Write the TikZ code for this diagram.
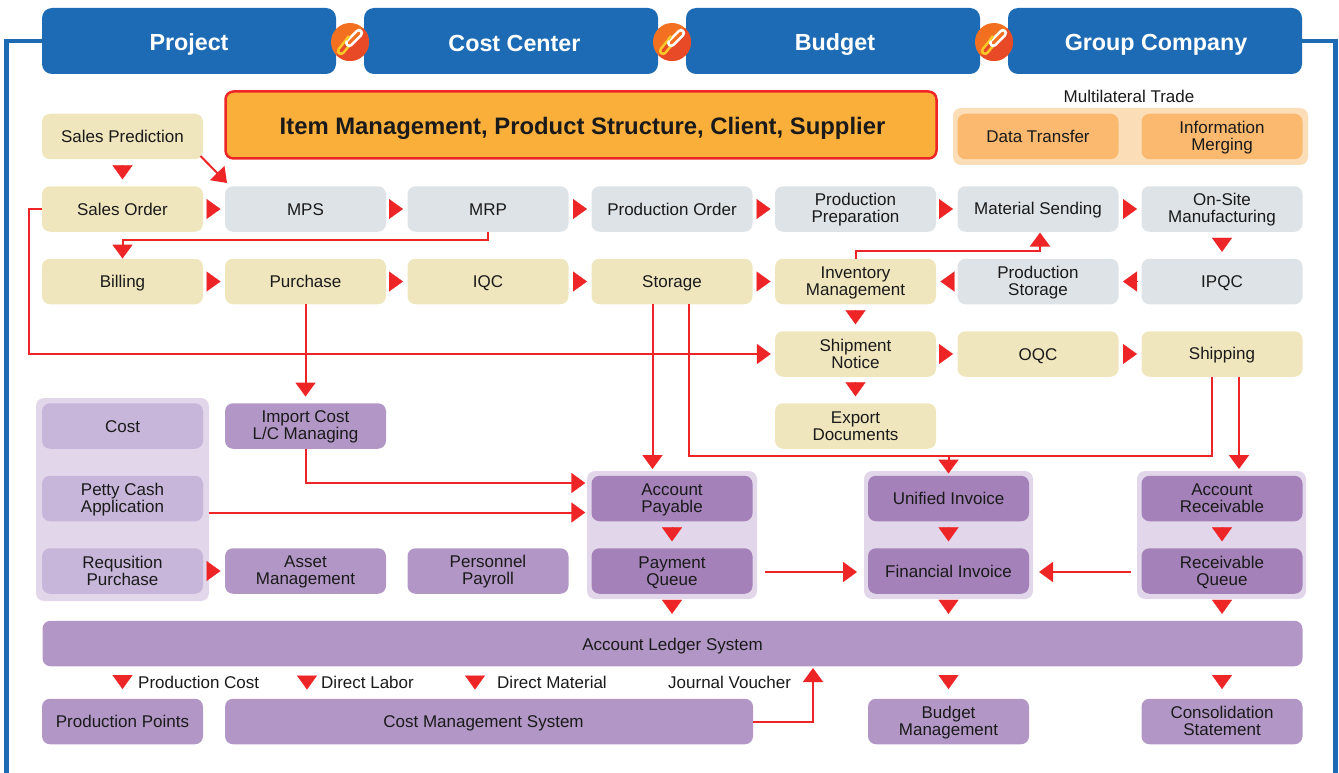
\documentclass[tikz,border=0pt]{standalone}
\usepackage{fontspec}
\setmainfont{Liberation Sans}
\usetikzlibrary{arrows.meta,calc}
\definecolor{hblue}{HTML}{1E6BB5}
\definecolor{cream}{HTML}{F0E6BE}
\definecolor{cgray}{HTML}{DDE3E7}
\definecolor{purp}{HTML}{B297C6}
\definecolor{dpurp}{HTML}{A481B9}
\definecolor{lpurp}{HTML}{C8B6DA}
\definecolor{panelp}{HTML}{E2D6EA}
\definecolor{orbox}{HTML}{FBAF3B}
\definecolor{orpanel}{HTML}{FBDDB8}
\definecolor{orcell}{HTML}{FAB96F}
\definecolor{cred}{HTML}{EE2527}
\definecolor{ink}{HTML}{1A1A1A}
\definecolor{icona}{HTML}{F37021}
\definecolor{iconb}{HTML}{E84A27}
\definecolor{iconc}{HTML}{FAC828}
\tikzset{
  x=1pt,y=-1pt,
  fixedline/.style 2 args={execute at begin node={\vrule width 0pt height #1 depth 0pt\relax},
     execute at end node={\vrule width 0pt depth #2 height 0pt\relax}},
  box/.style={inner sep=0pt,minimum width=161pt,minimum height=45.5pt,rounded corners=8pt,align=center,text=ink,
     font=\fontsize{17}{17}\selectfont,fixedline={15.4pt}{3.4pt}},
  two/.style={execute at begin node={\vrule width 0pt height 31.4pt depth 0pt\relax}},
  bcream/.style={box,fill=cream},
  bgray/.style={box,fill=cgray},
  bpurp/.style={box,fill=purp},
  bdark/.style={box,fill=dpurp},
  blight/.style={box,fill=lpurp},
  bor/.style={box,fill=orcell},
  panel/.style={rounded corners=8pt,fill=#1},
  header/.style={inner sep=0pt,minimum width=294pt,minimum height=66pt,rounded corners=10pt,fill=hblue,text=white,
     font=\fontsize{23.3}{24}\selectfont\bfseries,fixedline={23pt}{2pt}},
  lab/.style={inner sep=0pt,text=ink,font=\fontsize{17}{17}\selectfont},
  wire/.style={draw=cred,line width=2pt,-{Triangle[length=14pt,width=20pt]}},
  plain/.style={draw=cred,line width=2pt},
  hop/.style={draw=cred,fill=cred,line width=0.2pt,-{Triangle[length=14pt,width=20pt]},shorten >=#1,shorten <=#1},
  hop/.default=4.3pt,
  blueline/.style={draw=hblue,line width=4.5pt},
  linkicon/.pic={
    \fill[icona] (0,0) circle (19);
    \begin{scope}
      \clip (0,0) circle (19);
      \fill[iconb] (-14,14) -- (-5,5) -- (5,-3) -- (13,-14) -- (30,-5) -- (30,30) -- (-5,30) -- cycle;
    \end{scope}
    \draw[line width=8.5pt,line cap=round,draw=iconc] (-9,9) -- (0,-2);
    \draw[line width=3.2pt,line cap=round,draw=iconb] (-9,9) -- (0,-2);
    \draw[line width=8.5pt,line cap=round,draw=white] (-0.8,1) -- (9,-9);
    \draw[line width=3.2pt,line cap=round,draw=icona] (-0.8,1) -- (9,-9);
    \draw[line width=2.6pt,draw=iconc] (-4,-2) -- (-1,-6);
  }
}
\begin{document}
\begin{tikzpicture}
\useasboundingbox (0,0) rectangle (1339,773);
% blue frame
\node[header] (h1) at (189,41) {Project};
\node[header] (h2) at (511,41) {\hspace*{7pt}Cost Center};
\node[header] (h3) at (833,41) {\hspace*{4pt}Budget};
\node[header] (h4) at (1155,41) {\hspace*{2pt}Group Company};
\coordinate (fl) at (6.5,773);
\coordinate (fr) at (1335.3,773);
\draw[blueline] (h1.west) -| (fl);
\draw[blueline] (h4.east) -| (fr);
\pic at (350,42) {linkicon};
\pic at (672,42) {linkicon};
\pic at (994,42) {linkicon};
% panels
\fill[panel=orpanel] (953,108) rectangle (1308,165);
\fill[panel=panelp] (36,398) rectangle (209,601);
\fill[panel=panelp] (587,471) rectangle (757,599);
\fill[panel=panelp] (864,471) rectangle (1033,599);
\fill[panel=panelp] (1137,471) rectangle (1306,599);
% top
\node[box,fill=orbox,draw=cred,line width=2.5pt,minimum width=711pt,minimum height=67pt,font=\fontsize{23.85}{24}\selectfont\bfseries,fixedline={24.4pt}{3.4pt}] (item) at (581,125) {\hspace*{3pt}Item Management, Product Structure, Client, Supplier};
\node[lab] (mt) at (1129,96.5) {Multilateral Trade};
\node[bor] (dt) at (1038,136.5) {Data Transfer};
\node[bor,two] (im) at (1222,136.5) {Information\\Merging};
% row 1
\node[bcream] (sp) at (122.5,136.5) {Sales Prediction};
% row 2
\node[bcream] (so) at (122.5,209) {Sales Order};
\node[bgray] (mps) at (305.5,209) {MPS};
\node[bgray] (mrp) at (488,209) {MRP};
\node[bgray] (po) at (672,209) {Production Order};
\node[bgray,two] (pp) at (855.5,209) {Production\\Preparation};
\node[bgray] (ms) at (1038,209) {Material Sending};
\node[bgray,two] (os) at (1222,209) {On-Site\\Manufacturing};
% row 3
\node[bcream] (bi) at (122.5,281.5) {Billing};
\node[bcream] (pu) at (305.5,281.5) {Purchase};
\node[bcream] (iq) at (488,281.5) {IQC};
\node[bcream] (st) at (672,281.5) {Storage};
\node[bcream,two] (inv) at (855.5,281.5) {Inventory\\Management};
\node[bgray,two] (ps) at (1038,281.5) {Production\\Storage};
\node[bgray] (ip) at (1222,281.5) {IPQC};
% row 4
\node[bcream,two] (sn) at (855.5,354) {Shipment\\Notice};
\node[bcream] (oq) at (1038,354) {OQC};
\node[bcream] (sh) at (1222,354) {Shipping};
% row 5
\node[blight] (co) at (122.5,426) {Cost};
\node[bpurp,two] (ic) at (305.5,426) {Import Cost\\L/C Managing};
\node[bcream,two] (ex) at (855.5,426) {Export\\Documents};
% row 6
\node[blight,two] (pc) at (122.5,498.5) {Petty Cash\\Application};
\node[bdark,two] (ap) at (672,498.5) {Account\\Payable};
\node[bdark] (ui) at (948.5,498.5) {Unified Invoice};
\node[bdark,two] (ar) at (1222,498.5) {Account\\Receivable};
% row 7
\node[blight,two] (rp) at (122.5,571) {Requsition\\Purchase};
\node[bpurp,two] (am) at (305.5,571) {Asset\\Management};
\node[bpurp,two] (pr) at (488,571) {Personnel\\Payroll};
\node[bdark,two] (pq) at (672,571) {Payment\\Queue};
\node[bdark] (fi) at (948.5,571) {Financial Invoice};
\node[bdark,two] (rq) at (1222,571) {Receivable\\Queue};
% ledger
\node[bpurp,minimum width=1260pt,fixedline={17.4pt}{3.4pt}] (le) at (672.5,643.5) {Account Ledger System};
\node[bpurp] (pts) at (122.5,721.5) {Production Points};
\node[bpurp,minimum width=528pt] (cm) at (489,721.5) {\hspace*{-11pt}Cost Management System};
\node[bpurp,two] (bm) at (948.5,721.5) {Budget\\Management};
\node[bpurp,two] (cs) at (1222,721.5) {Consolidation\\Statement};
\node[lab,anchor=west] (t1) at (138,682) {Production Cost};
\node[lab,anchor=west] (t2) at (321,682) {Direct Labor};
\node[lab,anchor=west] (t3) at (497,682) {Direct Material};
\node[lab,anchor=west] (t4) at (668,682) {Journal Voucher};
% horizontal hops
\draw[hop] (so.east) -- (mps.west);
\draw[hop] (mps.east) -- (mrp.west);
\draw[hop] (mrp.east) -- (po.west);
\draw[hop] (po.east) -- (pp.west);
\draw[hop] (pp.east) -- (ms.west);
\draw[hop] (ms.east) -- (os.west);
\draw[hop] (bi.east) -- (pu.west);
\draw[hop] (pu.east) -- (iq.west);
\draw[hop] (iq.east) -- (st.west);
\draw[hop] (st.east) -- (inv.west);
\draw[hop] (ps.west) -- (inv.east);
\draw[hop] (ip.west) -- (ps.east);
\draw[hop] (sn.east) -- (oq.west);
\draw[hop] (oq.east) -- (sh.west);
\draw[hop] (rp.east) -- (am.west);
% vertical hops
\draw[hop=6.7pt] (sp.south) -- (so.north);
\draw[hop=6.7pt] (os.south) -- (ip.north);
\draw[hop=6.7pt] (inv.south) -- (sn.north);
\draw[hop=6.7pt] (sn.south) -- (ex.north);
\draw[hop=6.7pt] (ap.south) -- (pq.north);
\draw[hop=6.7pt] (ui.south) -- (fi.north);
\draw[hop=6.7pt] (ar.south) -- (rq.north);
\draw[hop=6.7pt] (pq.south) -- (le.north -| pq.south);
\draw[hop=6.7pt] (fi.south) -- (le.north -| fi.south);
\draw[hop=6.7pt] (rq.south) -- (le.north -| rq.south);
\draw[hop=9.5pt] (le.south -| bm.north) -- (bm.north);
\draw[hop=9.5pt] (le.south -| cs.north) -- (cs.north);
\draw[hop=9.5pt] (le.south -| pts.north) -- (pts.north);
\coordinate (dl) at (307,699);
\coordinate (dm) at (475,699);
\draw[hop=9.5pt] (le.south -| dl) -- (dl);
\draw[hop=9.5pt] (le.south -| dm) -- (dm);
% wires
\coordinate (spx) at (200.5,156);
\coordinate (mpx) at (227,183);
\draw[wire] (spx) -- (mpx);
\coordinate (y240) at (0,240);
\draw[wire] (mrp.south) |- (bi.north |- y240) -- (bi.north);
\coordinate (x29) at (29,0);
\draw[wire] (so.west) -- (x29 |- so.west) -- (x29 |- sn.west) -- ([xshift=-4pt]sn.west);
\coordinate (y250) at (0,250.5);
\coordinate (msb) at (1040,232.5);
\draw[wire] (inv.north) -- (inv.north |- y250) -- (msb |- y250) -- (msb);
\draw[wire] (pu.south) -- ([yshift=6.5pt]ic.north);
\coordinate (y483) at (0,483);
\draw[wire] (ic.south) -- (ic.south |- y483) -- ([xshift=-6pt]ap.west |- y483);
\coordinate (pcx) at (209,512.5);
\draw[wire] (pcx) -- ([xshift=-6pt]ap.west |- pcx);
\coordinate (y456) at (0,456);
\coordinate (y469) at (0,469);
\coordinate (s1) at (652.5,304);
\coordinate (s2) at (689,304);
\draw[wire] (s1) -- (s1 |- y469);
\coordinate (s3) at (1212,376.5);
\coordinate (s4) at (1239,376.5);
\draw[plain] (s2) -- (s2 |- y456) -- (s3 |- y456) -- (s3);
\draw[wire] (ui.north |- y456) -- ([yshift=2pt]ui.north);
\draw[wire] (s4) -- (s4 |- y469);
\coordinate (f1) at (765,572);
\coordinate (f2) at (1131,572);
\coordinate (f1e) at (857,572);
\coordinate (f2e) at (1039,572);
\draw[wire] (f1) -- (f1e);
\draw[wire] (f2) -- (f2e);
\coordinate (cmj) at (813,668);
\draw[wire] (cm.east) -| (cmj);
\end{tikzpicture}
\end{document}
